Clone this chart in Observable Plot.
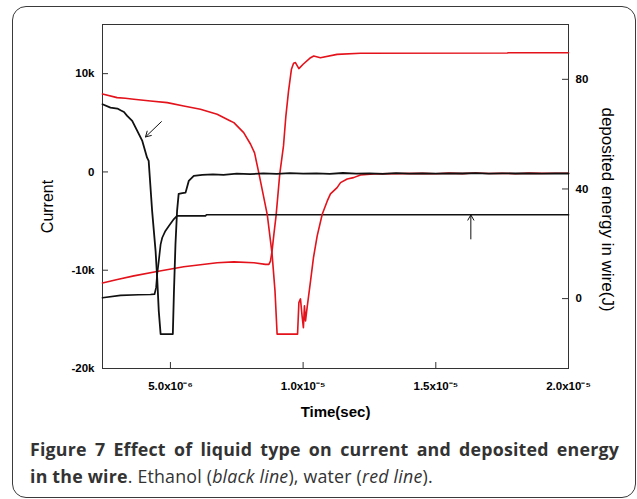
<!DOCTYPE html>
<html><head><meta charset="utf-8">
<script src="https://cdn.jsdelivr.net/npm/d3@7"></script>
<script src="https://cdn.jsdelivr.net/npm/@observablehq/plot@0.6"></script>
<style>
html,body{margin:0;padding:0;background:#fff;width:637px;height:499px;overflow:hidden;}
#wrap{position:relative;width:637px;height:499px;}
#chart{position:absolute;left:0;top:0;}
#box{position:absolute;left:12px;top:6px;width:624px;height:492px;border:1.5px solid #3a3a3a;border-radius:14px;box-sizing:border-box;pointer-events:none;}
#cap{position:absolute;left:30px;top:436px;width:589px;font-family:"Open Sans",sans-serif;font-size:17.8px;letter-spacing:0.2px;line-height:27px;color:#333;}
.l1{font-weight:700;text-align:justify;text-align-last:justify;}
.l2 b{font-weight:700;}
</style></head><body>
<div id="wrap"><div id="chart"></div><div id="box"></div>
<div id="cap"><div class="l1">Figure 7 Effect of liquid type on current and deposited energy</div><div class="l2"><b>in the wire</b>. Ethanol (<i>black line</i>), water (<i>red line</i>).</div></div></div>
<script>
// ---- axes (time in microseconds) ----
const timeDomainUs = [2.44, 20];
const currentDomain = [-20000, 15000];
const energyDomain = [-25.5, 100];

const xTickValues = [5, 10, 15, 20];
const xTickLabels = ["5.0x10\u207B\u2076", "1.0x10\u207B\u2075", "1.5x10\u207B\u2075", "2.0x10\u207B\u2075"];
const leftTickValues = [10000, 0, -10000, -20000];
const leftTickLabels = ["10k", "0", "-10k", "-20k"];
const rightTickValues = [0, 40, 80];
const rightTickLabels = ["0", "40", "80"];

// ---- ethanol (black) current, A ----
const ethanolCurrentTime = [2.44,2.74,3.00,3.12,3.25,3.37,3.56,3.75,3.94,4.12,4.18,4.31,4.44,4.50,4.56,4.63,5.09,5.13,5.19,5.25,5.31,5.45,5.57,5.69,5.88,6.20,6.6,7.0,7.5,8.0,8.5,9.0,9.5,10.0,10.5,11.0,11.5,12.0,12.5,13.0,13.5,14.0,14.5,15.0,15.5,16.0,16.5,17.0,17.5,18.0,18.5,19.0,19.5,20.0];
const ethanolCurrent = [6887,6541,6450,6277,6100,5697,5188,4171,3154,1455,1119,-3967,-8037,-10753,-14141,-16500,-16500,-12411,-7325,-3967,-2238,-2150,-2106,-916,-407,-305,-250,-300,-180,-230,-150,-200,-120,-180,-150,-200,-110,-170,-140,-190,-130,-170,-150,-180,-140,-160,-130,-170,-150,-160,-140,-170,-150,-160];

// ---- water (red) current, A ----
const waterCurrentTime = [2.44,2.99,3.30,3.62,4.25,4.88,5.50,6.13,6.76,7.26,7.39,7.76,8.02,8.17,8.33,8.49,8.65,8.83,8.94,9.02,9.79,9.84,9.90,9.96,10.01,10.05,10.09,10.15,10.28,10.39,10.53,10.72,10.91,11.03,11.28,11.41,11.66,11.90,12.16,12.65,13.67,14.5,15.0,15.5,16.0,16.5,17.0,17.5,18.0,18.5,19.0,19.5,20.0];
const waterCurrent = [7935,7559,7500,7396,7223,7050,6714,6378,5870,5188,5015,3998,2818,1933,-102,-2238,-4374,-8342,-12106,-16500,-16500,-13296,-12920,-14650,-15840,-13630,-15160,-13805,-11089,-8718,-6511,-4303,-2950,-2238,-1597,-1088,-712,-580,-305,-203,-173,-150,-190,-120,-170,-110,-160,-130,-180,-120,-150,-130,-140];

// ---- ethanol (black) deposited energy, J ----
const ethanolEnergyTime = [2.44,3.12,3.80,4.25,4.40,4.46,4.50,4.56,4.63,4.69,4.81,4.94,5.13,5.25,6.32,6.36,20];
const ethanolEnergy = [0.3,1.2,1.4,1.5,1.6,4.0,8.9,13.7,19.8,22.2,24.7,26.5,29.0,30.2,30.2,30.6,30.6];

// ---- water (red) deposited energy, J ----
const waterEnergyTime = [2.44,3.00,3.62,4.44,5.50,6.76,7.39,8.14,8.58,8.71,8.77,8.83,8.90,8.98,9.12,9.26,9.35,9.45,9.56,9.64,9.71,9.84,10.0,10.28,10.40,10.65,11.28,12.16,17.69,17.74,20];
const waterEnergy = [5.7,7.0,8.3,9.8,11.6,13.1,13.4,13.1,12.5,12.5,13.7,17.4,23.6,30.2,45.5,55.7,66.6,75.7,83.7,85.9,86.1,83.9,85.5,87.9,88.5,87.9,89.1,89.5,89.6,89.7,89.7];

// ---- annotation arrows: [time, value-on-current-axis] ----
const arrowFromTime = [4.66, 16.32];
const arrowFromValue = [5117, -6816];
const arrowToTime = [4.06, 16.32];
const arrowToValue = [3561, -4374];

// energy -> current-axis units (dual axis)
const eToI = e => currentDomain[0] + (e - energyDomain[0]) * (currentDomain[1] - currentDomain[0]) / (energyDomain[1] - energyDomain[0]);
const rows = (ts, vs, f = v => v) => ts.map((t, i) => ({t, v: f(vs[i])}));
const rightMapped = rightTickValues.map(eToI);
const arrows = arrowFromTime.map((t, i) => ({x1: t, y1: arrowFromValue[i], x2: arrowToTime[i], y2: arrowToValue[i]}));

const RED = "#e3121b", BLACK = "#111";
const W = 637, H = 425, mL = 102, mR = 69, mT = 24, mB = 57;
const innerW = W - mL - mR, innerH = H - mT - mB;

const chart = Plot.plot({
  width: W, height: H,
  marginLeft: mL, marginRight: mR, marginTop: mT, marginBottom: mB,
  style: {background: "transparent", fontFamily: "'Liberation Sans', Arial, sans-serif", fontSize: "11.5px", fontWeight: "bold", color: "#000"},
  x: {domain: timeDomainUs},
  y: {domain: currentDomain},
  marks: [
    Plot.frame({stroke: "#333"}),
    Plot.tickX(xTickValues, {x: d => d, insetTop: innerH - 6, stroke: "#333"}),
    Plot.tickY(leftTickValues.slice(0, 3), {y: d => d, insetRight: innerW - 6, stroke: "#333"}),
    Plot.tickY(rightMapped, {y: d => d, insetLeft: innerW - 6, stroke: "#333"}),
    Plot.axisX(xTickValues, {label: null, tickSize: 0, tickPadding: 13, fontSize: 11.5, tickFormat: d => xTickLabels[xTickValues.indexOf(d)]}),
    Plot.axisY(leftTickValues, {anchor: "left", label: null, tickSize: 0, tickPadding: 8, tickFormat: d => leftTickLabels[leftTickValues.indexOf(d)]}),
    Plot.axisY(rightMapped, {anchor: "right", label: null, tickSize: 0, tickPadding: 7, tickFormat: d => rightTickLabels[rightMapped.indexOf(d)]}),
    Plot.line(rows(waterEnergyTime, waterEnergy, eToI), {x: "t", y: "v", stroke: RED, strokeWidth: 1.6}),
    Plot.line(rows(ethanolEnergyTime, ethanolEnergy, eToI), {x: "t", y: "v", stroke: BLACK, strokeWidth: 1.7}),
    Plot.line(rows(waterCurrentTime, waterCurrent), {x: "t", y: "v", stroke: RED, strokeWidth: 1.6}),
    Plot.line(rows(ethanolCurrentTime, ethanolCurrent), {x: "t", y: "v", stroke: BLACK, strokeWidth: 1.8}),
    Plot.arrow(arrows, {x1: "x1", y1: "y1", x2: "x2", y2: "y2", stroke: BLACK, strokeWidth: 1, headLength: 9}),
    Plot.text(["Current"], {frameAnchor: "left", textAnchor: "middle", dx: -55, dy: 10, rotate: -90, fontSize: 16, fontWeight: "normal"}),
    Plot.text(["deposited energy in wire(J)"], {frameAnchor: "right", textAnchor: "middle", dx: 39, dy: 13, rotate: 90, fontSize: 17, fontWeight: "normal"}),
    Plot.text(["Time(sec)"], {frameAnchor: "bottom", dy: 43.5, fontSize: 15, lineAnchor: "middle"})
  ]
});
document.getElementById("chart").appendChild(chart);
</script>
</body></html>
